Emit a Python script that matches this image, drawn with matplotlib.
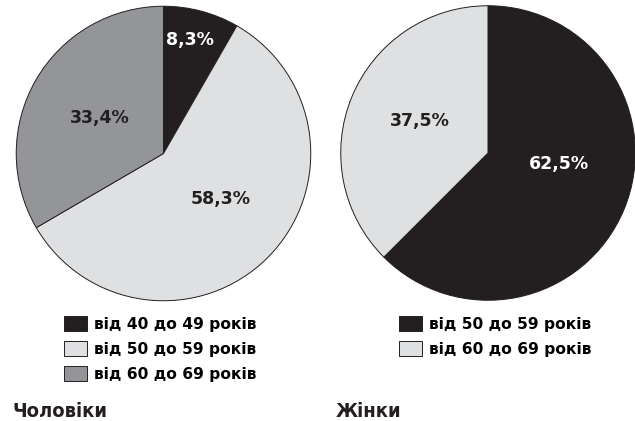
import matplotlib
matplotlib.use("Agg")
from matplotlib import pyplot as plt

# вікові групи та частки, %
men_groups = ["від 40 до 49 років", "від 50 до 59 років", "від 60 до 69 років"]
men_share = [8.3, 58.3, 33.4]
women_groups = ["від 50 до 59 років", "від 60 до 69 років"]
women_share = [62.5, 37.5]

BLACK = "#231f20"
LIGHT = "#dfe0e2"
MID = "#939598"

men_colors = [BLACK, LIGHT, MID]
women_colors = [BLACK, LIGHT]

# де стоять підписи всередині кола (в радіусах)
men_label_pos = [(0.18, 0.77), (0.39, -0.31), (-0.43, 0.24)]
women_label_pos = [(0.48, -0.074), (-0.46, 0.22)]

W, H = 635, 421
fig = plt.figure(figsize=(W / 100, H / 100), dpi=100)


def fmt(v):
    return ("%.1f%%" % v).replace(".", ",")


def draw_pie(cx, cy, values, colors, label_pos):
    r = 148
    ax = fig.add_axes([(cx - r) / W, (H - cy - r) / H, 2 * r / W, 2 * r / H])
    wedges, _ = ax.pie(values, colors=colors, startangle=90, counterclock=False,
                       radius=1, wedgeprops=dict(edgecolor=BLACK, linewidth=0.7))
    for v, c, (x, y) in zip(values, colors, label_pos):
        ax.text(x, y, fmt(v), ha="center", va="center", fontsize=12.5,
                fontweight="bold", color="white" if c == BLACK else BLACK)
    ax.set_xlim(-1.005, 1.005)
    ax.set_ylim(-1.005, 1.005)
    ax.set_aspect("equal")
    ax.axis("off")
    return wedges


men_wedges = draw_pie(163.5, 153.5, men_share, men_colors, men_label_pos)
women_wedges = draw_pie(488, 153, women_share, women_colors, women_label_pos)


def draw_legend(handles, labels, x, y):
    fig.legend(handles, labels, loc="upper left",
               bbox_to_anchor=(x / W, 1 - y / H), frameon=False,
               borderpad=0, borderaxespad=0,
               prop=dict(weight="bold", size=11.2),
               handlelength=1.45, handleheight=1.15,
               handletextpad=0.5, labelspacing=0.58)


draw_legend(men_wedges, men_groups, 64, 316)
draw_legend(women_wedges, women_groups, 399, 316)

title_font = dict(fontsize=14.5, fontweight="heavy", fontstretch="condensed",
                  color=BLACK, va="baseline")
fig.text(12 / W, 1 - 417 / H, "Чоловіки", **title_font)
fig.text(336 / W, 1 - 417 / H, "Жінки", **title_font)

fig.savefig("out.png", dpi=100, facecolor="white")
